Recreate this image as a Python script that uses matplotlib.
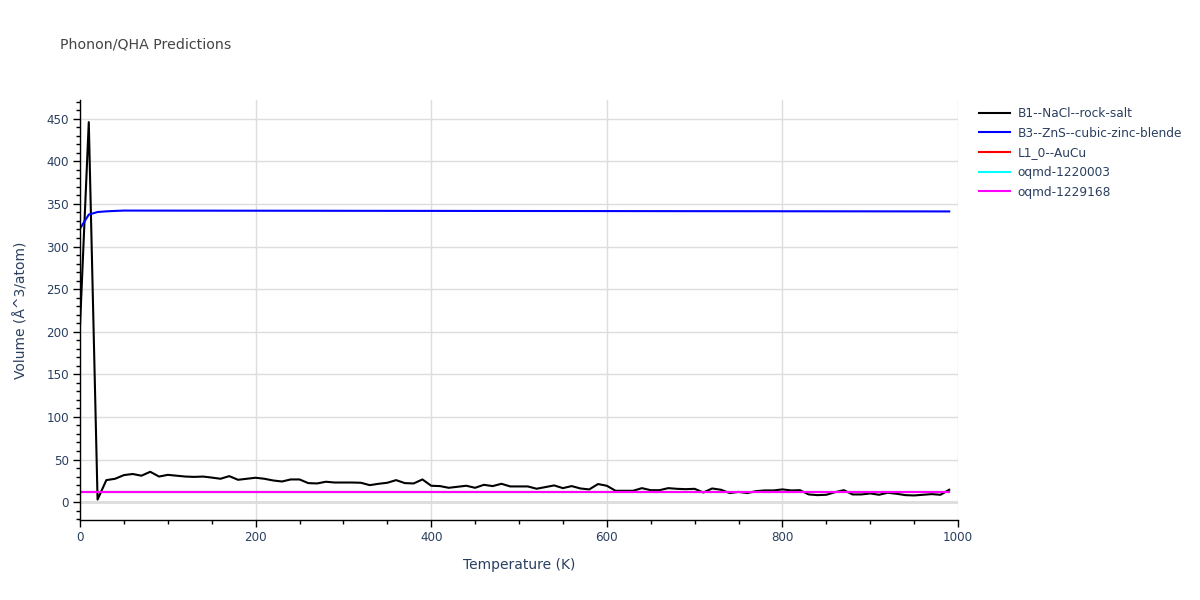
#Libraries
import numpy as np
import matplotlib
matplotlib.use('Agg')
import matplotlib.pyplot as plt
from matplotlib.ticker import MultipleLocator

#Set style
plt.rcParams['font.family'] = ['DejaVu Sans']

#Data
temperature = list(range(0, 1000, 10))  #K
vol_b1 = [207, 446, 3, 25.8, 27.4, 31.7, 33, 31, 35.6, 30,
          32, 31, 30, 29.6, 30, 28.8, 27.4, 30.5, 26.2, 27.4,
          28.6, 27.4, 25.4, 24.2, 26.6, 26.6, 22.3, 21.9, 23.9, 23,
          23, 23, 22.7, 19.9, 21.5, 22.7, 25.8, 22.3, 21.9, 26.6,
          19.2, 18.8, 16.8, 18, 19.2, 16.8, 20.3, 18.8, 21.5, 18.4,
          18.4, 18.4, 15.7, 17.6, 19.6, 16.4, 18.8, 16, 14.9, 21.2,
          19.2, 13.3, 13.3, 13.3, 16.4, 14, 14, 16.4, 15.6, 15.2,
          15.6, 11.3, 16, 14.5, 10.6, 12, 10.6, 12.9, 13.7, 13.7,
          14.9, 13.7, 14, 9, 8.2, 8.6, 11.7, 14, 9, 9,
          10.2, 8.6, 11, 9.8, 8.2, 7.8, 8.6, 9.4, 8.6, 14.5]
vol_b3_start = [321, 337.5, 340.5, 341.3, 341.8]
vol_b3_end = [342.2, 341.2]  #slow drift from 50 K to 990 K
vol_b3 = vol_b3_start + list(np.linspace(vol_b3_end[0], vol_b3_end[1], len(temperature) - len(vol_b3_start)))
vol_l10 = [11.8] * len(temperature)
vol_1220003 = [12.2] * len(temperature)
vol_1229168 = [11.8] * len(temperature)

series = [
    ('B1--NaCl--rock-salt', vol_b1, 'black'),
    ('B3--ZnS--cubic-zinc-blende', vol_b3, 'blue'),
    ('L1_0--AuCu', vol_l10, 'red'),
    ('oqmd-1220003', vol_1220003, 'cyan'),
    ('oqmd-1229168', vol_1229168, 'magenta'),
]

text_color = '#2a3f5f'

#Plot
fig = plt.figure(figsize=(12, 6), dpi=100)
ax = fig.add_axes([80/1200, 80/600, 878/1200, 420/600])
for name, vals, col in series:
    ax.plot(temperature, vals, color=col, lw=1.5, label=name)

ax.set_xlim(0, 1000)
ax.set_ylim(-21, 472)
ax.xaxis.set_major_locator(MultipleLocator(200))
ax.xaxis.set_minor_locator(MultipleLocator(50))
ax.yaxis.set_major_locator(MultipleLocator(50))
ax.yaxis.set_minor_locator(MultipleLocator(10))
ax.grid(True, which='major', color='#dddddd', lw=1)
ax.axhline(0, color='#dddddd', lw=2, zorder=0.5)
ax.set_axisbelow(True)

for s in ['top', 'right']:
    ax.spines[s].set_visible(False)
for s in ['left', 'bottom']:
    ax.spines[s].set_color('black')
    ax.spines[s].set_linewidth(1)

ax.tick_params(which='major', direction='out', length=5, width=1, color='black',
               labelsize=8.6, labelcolor=text_color, pad=3)
ax.tick_params(which='minor', direction='out', length=3, width=1, color='black')

ax.set_xlabel('Temperature (K)', fontsize=10, color=text_color, labelpad=10)
ax.set_ylabel('Volume (Å^3/atom)', fontsize=10, color=text_color, labelpad=13)

fig.text(60/1200, 1 - 45/600, 'Phonon/QHA Predictions', fontsize=10.2,
         color='#444444', va='center', ha='left')

leg = ax.legend(loc='upper left', bbox_to_anchor=(979/1200, 1 - 107/600),
                bbox_transform=fig.transFigure, frameon=False, fontsize=8.7,
                handlelength=2.6, handletextpad=0.6, labelspacing=0.55,
                borderaxespad=0, borderpad=0)
for t in leg.get_texts():
    t.set_color(text_color)

fig.savefig('out.png', dpi=100)
